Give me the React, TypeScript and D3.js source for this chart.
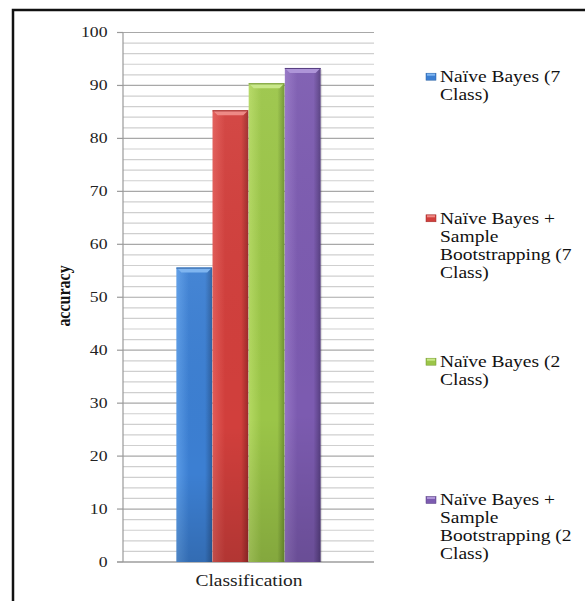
import React from "react";
import * as d3 from "d3";

const categories = ["Classification"];
const seriesNames = [
  ["Naïve Bayes (7", "Class)"],
  ["Naïve Bayes +", "Sample", "Bootstrapping (7", "Class)"],
  ["Naïve Bayes (2", "Class)"],
  ["Naïve Bayes +", "Sample", "Bootstrapping (2", "Class)"],
];
const seriesValues = [55.6, 85.3, 90.4, 93.3];
const yTicks = [0, 10, 20, 30, 40, 50, 60, 70, 80, 90, 100];
const minorTicks = d3.range(0, 101, 2);
const colors = [
  { light: "#5a9be6", main: "#3c7fd2", dark: "#2c5f9f", top: "#7fb5f0" },
  { light: "#e25b57", main: "#d13f3c", dark: "#9c2a28", top: "#ee8a86" },
  { light: "#b4d962", main: "#9bc548", dark: "#6f9330", top: "#c9e88a" },
  { light: "#9474c4", main: "#7c5bb0", dark: "#563e80", top: "#ae95d8" },
];
const legendY = [76.7, 218.3, 361.7, 500];

const W = 585;
const H = 601;
const SX = 1.22;
const FONT = "Liberation Serif, serif";

export default function App() {
  const left = 123;
  const right = 374;
  const y = d3.scaleLinear().domain([0, 100]).range([562, 32.5]);
  const x0 = d3.scaleBand<string>().domain(categories).range([left, right]).padding(0.27);
  const x1 = d3
    .scaleBand<number>()
    .domain(seriesValues.map((_, i) => i))
    .range([0, x0.bandwidth()])
    .paddingInner(0.01);

  const st = (x: number, yy: number) => `translate(${x},${yy}) scale(${SX},1)`;
  const tstyle = { fontFamily: FONT };

  return (
    <svg
      width={W}
      height={H}
      style={{ position: "absolute", left: 0, top: 0, background: "#fff" }}
    >
      <defs>
        {colors.map((c, i) => (
          <linearGradient key={i} id={`g${i}`} x1="0" x2="1" y1="0" y2="0">
            <stop offset="0" stopColor={c.light} />
            <stop offset="0.35" stopColor={c.main} />
            <stop offset="0.8" stopColor={c.main} />
            <stop offset="1" stopColor={c.dark} />
          </linearGradient>
        ))}
        {colors.map((c, i) => (
          <linearGradient key={"v" + i} id={`v${i}`} x1="0" x2="0" y1="0" y2="1">
            <stop offset="0" stopColor="#ffffff" stopOpacity={0.05} />
            <stop offset="0.7" stopColor="#000000" stopOpacity={0.0} />
            <stop offset="1" stopColor="#000000" stopOpacity={0.15} />
          </linearGradient>
        ))}
      </defs>
      <rect width={W} height={H} fill="#fff" />
      <path d={`M13,${H} V10 H${W}`} fill="none" stroke="#111" strokeWidth={2.5} />

      {minorTicks.map((t) => (
        <line
          key={"m" + t}
          x1={left}
          x2={right}
          y1={y(t)}
          y2={y(t)}
          stroke={t % 10 === 0 ? "#a8a8a8" : "#cfcfcf"}
          strokeWidth={1.2}
        />
      ))}
      <line x1={left} x2={left} y1={y(100)} y2={y(0)} stroke="#9a9a9a" strokeWidth={1.2} />
      <line x1={117} x2={right} y1={y(0)} y2={y(0)} stroke="#9a9a9a" strokeWidth={1.2} />
      {yTicks.map((t) => (
        <g key={"t" + t}>
          <line x1={117} x2={left} y1={y(t)} y2={y(t)} stroke="#9a9a9a" strokeWidth={1.2} />
          <text
            transform={st(107.5, y(t))}
            textAnchor="end"
            dominantBaseline="central"
            style={tstyle}
            fontSize={14.5}
            fill="#222"
          >
            {t}
          </text>
        </g>
      ))}

      {seriesValues.map((v, i) => {
        const bx = (x0(categories[0]) ?? 0) + (x1(i) ?? 0);
        const bw = x1.bandwidth();
        const by = y(v);
        const bh = y(0) - by;
        const c = colors[i];
        return (
          <g key={"b" + i}>
            <rect x={bx + 1.5} y={by + 1.5} width={bw} height={bh - 1.5} fill="#000" opacity={0.12} />
            <rect x={bx} y={by} width={bw} height={bh} fill={`url(#g${i})`} />
            <rect x={bx} y={by} width={bw} height={bh} fill={`url(#v${i})`} />
            <path
              d={`M${bx},${by} H${bx + bw} L${bx + bw - 5},${by + 5} H${bx + 5} Z`}
              fill={c.top}
            />
            <line x1={bx} x2={bx + bw} y1={by + 0.5} y2={by + 0.5} stroke={c.dark} strokeWidth={1} />
          </g>
        );
      })}

      <text
        transform={`translate(63,296) scale(${SX},1) rotate(-90)`}
        textAnchor="middle"
        dominantBaseline="central"
        style={tstyle}
        fontWeight="bold"
        fontSize={16}
        fill="#111"
      >
        accuracy
      </text>

      <text
        transform={st(249, 581)}
        textAnchor="middle"
        dominantBaseline="central"
        style={tstyle}
        fontSize={16}
        fill="#222"
      >
        {categories[0]}
      </text>

      {seriesNames.map((lines, i) => (
        <g key={"l" + i}>
          <rect x={426} y={legendY[i] - 3.5} width={10} height={7} fill={colors[i].main} stroke={colors[i].dark} strokeWidth={0.5} />
          <rect x={427} y={legendY[i] - 3} width={8} height={2} fill={colors[i].top} />
          {lines.map((ln, j) => (
            <text
              key={j}
              transform={st(440, legendY[i] + j * 18)}
              dominantBaseline="central"
              style={tstyle}
              fontSize={16}
              fill="#111"
            >
              {ln}
            </text>
          ))}
        </g>
      ))}
    </svg>
  );
}
